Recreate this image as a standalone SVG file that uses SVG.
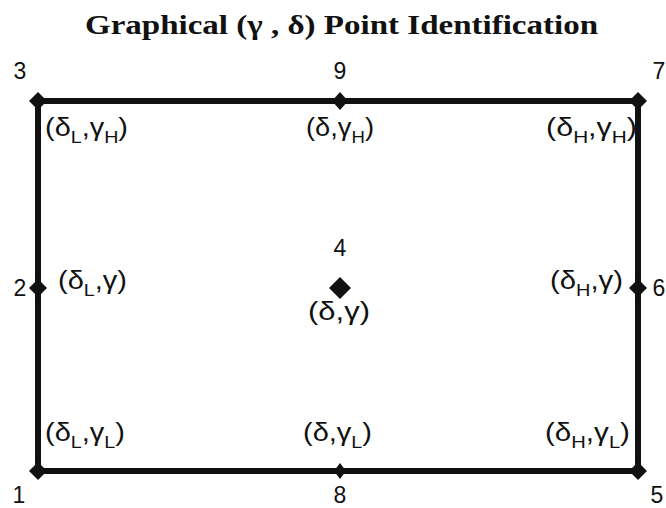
<svg xmlns="http://www.w3.org/2000/svg" width="666" height="508" viewBox="0 0 666 508">
<style>
.t{font-family:"Liberation Serif",serif;font-weight:bold;font-size:27px;fill:#111}
.n{font-family:"Liberation Sans",Arial,sans-serif;font-size:23px;fill:#111}
.l{font-family:"Liberation Sans",Arial,sans-serif;font-size:25px;fill:#111}
.s{font-size:17px}
.e{stroke:#111;stroke-width:6;fill:none}
.d{fill:#111}
</style>
<rect width="666" height="508" fill="#fff"/>
<text class="t" x="85" y="34" textLength="513" lengthAdjust="spacingAndGlyphs">Graphical (γ , δ) Point Identification</text>
<g id="connectors">
<path class="e" d="M38,101 H638 V471 H38 Z"/>
</g>
<g id="n1"><path class="d" d="M38,462 l9,9 l-9,9 l-9,-9 z"/><text class="n" x="19" y="503" text-anchor="middle">1</text>
<text class="l" x="45" y="441" textLength="80" lengthAdjust="spacingAndGlyphs">(δ<tspan class="s" dy="7">L</tspan><tspan dy="-7">,γ</tspan><tspan class="s" dy="7">L</tspan><tspan dy="-7">)</tspan></text></g>
<g id="n2"><path class="d" d="M38,279 l9,9 l-9,9 l-9,-9 z"/><text class="n" x="20" y="296" text-anchor="middle">2</text>
<text class="l" x="58" y="289" textLength="69" lengthAdjust="spacingAndGlyphs">(δ<tspan class="s" dy="7">L</tspan><tspan dy="-7">,γ)</tspan></text></g>
<g id="n3"><path class="d" d="M38,92 l9,9 l-9,9 l-9,-9 z"/><text class="n" x="20" y="79" text-anchor="middle">3</text>
<text class="l" x="45" y="136" textLength="83" lengthAdjust="spacingAndGlyphs">(δ<tspan class="s" dy="7">L</tspan><tspan dy="-7">,γ</tspan><tspan class="s" dy="7">H</tspan><tspan dy="-7">)</tspan></text></g>
<g id="n4"><path class="d" d="M340,277 l11,11 l-11,11 l-11,-11 z"/><text class="n" x="340" y="256" text-anchor="middle">4</text>
<text class="l" x="308" y="320" textLength="62" lengthAdjust="spacingAndGlyphs">(δ,γ)</text></g>
<g id="n5"><path class="d" d="M638,462 l9,9 l-9,9 l-9,-9 z"/><text class="n" x="657" y="503" text-anchor="middle">5</text>
<text class="l" x="545" y="441" textLength="85" lengthAdjust="spacingAndGlyphs">(δ<tspan class="s" dy="7">H</tspan><tspan dy="-7">,γ</tspan><tspan class="s" dy="7">L</tspan><tspan dy="-7">)</tspan></text></g>
<g id="n6"><path class="d" d="M638,279 l9,9 l-9,9 l-9,-9 z"/><text class="n" x="659" y="296" text-anchor="middle">6</text>
<text class="l" x="550" y="289" textLength="73" lengthAdjust="spacingAndGlyphs">(δ<tspan class="s" dy="7">H</tspan><tspan dy="-7">,γ)</tspan></text></g>
<g id="n7"><path class="d" d="M638,92 l9,9 l-9,9 l-9,-9 z"/><text class="n" x="659" y="79" text-anchor="middle">7</text>
<text class="l" x="546" y="136" textLength="91" lengthAdjust="spacingAndGlyphs">(δ<tspan class="s" dy="7">H</tspan><tspan dy="-7">,γ</tspan><tspan class="s" dy="7">H</tspan><tspan dy="-7">)</tspan></text></g>
<g id="n8"><path class="d" d="M340,463 l6,8 l-6,8 l-6,-8 z"/><text class="n" x="340" y="503" text-anchor="middle">8</text>
<text class="l" x="303" y="441" textLength="69" lengthAdjust="spacingAndGlyphs">(δ,γ<tspan class="s" dy="7">L</tspan><tspan dy="-7">)</tspan></text></g>
<g id="n9"><path class="d" d="M340,92 l8,9 l-8,9 l-8,-9 z"/><text class="n" x="340" y="79" text-anchor="middle">9</text>
<text class="l" x="306" y="136" textLength="68" lengthAdjust="spacingAndGlyphs">(δ,γ<tspan class="s" dy="7">H</tspan><tspan dy="-7">)</tspan></text></g>
</svg>
